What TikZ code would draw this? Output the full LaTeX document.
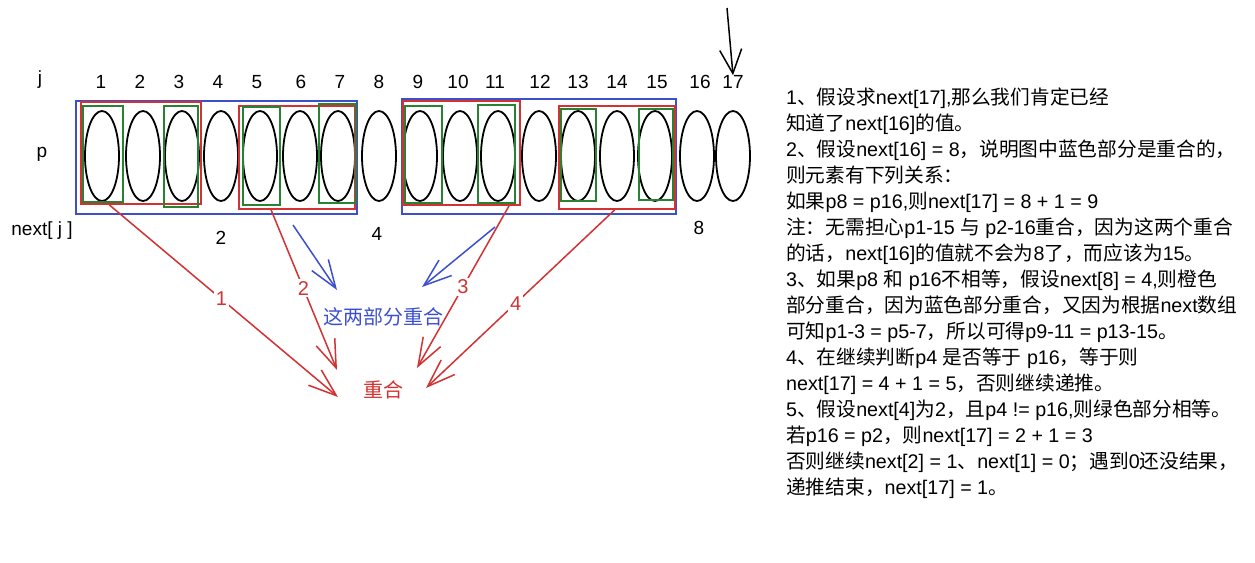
\documentclass[tikz,border=0pt]{standalone}
\usepackage{fontspec}
\setmainfont{Liberation Sans}
\newfontfamily\cjk{Noto Sans CJK SC}
\usetikzlibrary{shapes.geometric,arrows.meta,calc}
\definecolor{myblue}{RGB}{60,80,205}
\definecolor{myred}{RGB}{210,50,50}
\definecolor{mygreen}{RGB}{40,130,50}
\newcommand\zh[1]{{\cjk #1}}
\begin{document}
\begin{tikzpicture}[x=1pt,y=-1pt,
  oval/.style={ellipse, draw, line width=1.8pt, minimum width=34pt, minimum height=90pt, inner sep=0},
  lab/.style={inner sep=0, font=\fontsize{19}{22}\selectfont},
  zhlab/.style={inner sep=0, font=\cjk\fontsize{20}{22}\selectfont},
  bluebox/.style={draw=myblue, line width=1.8pt, inner sep=0},
  redbox/.style={draw=myred, line width=1.8pt, inner sep=0},
  greenbox/.style={draw=mygreen, line width=1.8pt, inner sep=0},
  redarrow/.style={draw=myred, line width=1.5pt, -{Straight Barb[length=28pt,width=20pt]}},
  bluearrow/.style={draw=myblue, line width=1.5pt, -{Straight Barb[length=28pt,width=20pt]}},
  numlab/.style={inner sep=2pt, fill=white, text=myred, font=\fontsize{20}{22}\selectfont},
  txt/.style={anchor=west, inner sep=0, font=\fontsize{19.7}{26}\selectfont, text height=15pt, text depth=4pt}
]
\useasboundingbox (0,0) rectangle (1255,562);
\fill[white] (0,0) rectangle (1255,562);

% ellipses
\foreach \i/\x in {1/102,2/143,3/182,4/221,5/260,6/300,7/338,8/379,9/420,10/460,11/498,12/539,13/578,14/617,15/655,16/697,17/733}
  \node[oval] (e\i) at (\x,156) {};

% column labels
\foreach \i/\x in {1/101,2/140,3/179,4/218,5/257,6/301,7/340,8/379,9/418,10/458,11/495,12/540,13/578,14/617,15/657,16/700,17/733}
  \node[lab] (j\i) at (\x,82) {\i};

\node[lab] (jl) at (40,80) {j};
\node[lab] (pl) at (42,154) {p};
\node[lab] (nl) at (42,231) {next[ j ]};
\node[lab] (n2) at (221,238) {2};
\node[lab] (n4) at (377,234) {4};
\node[lab] (n8) at (699,228) {8};

% boxes
\node[bluebox, minimum width=281pt, minimum height=113pt] (b1) at (216.5,157.5) {};
\node[bluebox, minimum width=274pt, minimum height=115pt] (b2) at (539,156.5) {};
\node[redbox, minimum width=120pt, minimum height=102pt] (r1) at (141,153) {};
\node[redbox, minimum width=116pt, minimum height=103pt] (r2) at (297,157.5) {};
\node[redbox, minimum width=117pt, minimum height=104pt] (r3) at (461.5,153) {};
\node[redbox, minimum width=116pt, minimum height=103pt] (r4) at (617,157.5) {};
\node[greenbox, minimum width=40pt, minimum height=96pt] (g1) at (103,154) {};
\node[greenbox, minimum width=34pt, minimum height=101pt] (g2) at (181,156.5) {};
\node[greenbox, minimum width=37pt, minimum height=98pt] (g3) at (261.5,156) {};
\node[greenbox, minimum width=37pt, minimum height=99pt] (g4) at (337.5,153.5) {};
\node[greenbox, minimum width=37pt, minimum height=97pt] (g5) at (423.5,154.5) {};
\node[greenbox, minimum width=37pt, minimum height=98pt] (g6) at (496.5,154) {};
\node[greenbox, minimum width=35pt, minimum height=92pt] (g7) at (578.5,155) {};
\node[greenbox, minimum width=34pt, minimum height=91pt] (g8) at (656,154.5) {};

% target texts
\node[zhlab, text=myblue] (both) at (383,317) {这两部分重合};
\node[zhlab, text=myred] (ov) at (383,390) {重合};

% arrow ends
\coordinate (t1) at (338,397);
\coordinate (t2) at (337,370);
\coordinate (t3) at (417,368);
\coordinate (t4) at (426,388);
\coordinate (bs1) at (293,225);
\coordinate (bt1) at (337,290);
\coordinate (bs2) at (495,227);
\coordinate (bt2) at (422,287);
\coordinate (top) at (727,8);

\draw[redarrow] ($(r1.south west)!0.24!(r1.south east)$) -- node[numlab, pos=0.49] (l1) {1} (t1);
\draw[redarrow] ($(r2.south west)!0.28!(r2.south east)$) -- node[numlab, pos=0.49] (l2) {2} (t2);
\draw[redarrow] ($(r3.south west)!0.90!(r3.south east)$) -- node[numlab, pos=0.5] (l3) {3} (t3);
\draw[redarrow] ($(r4.south west)!0.48!(r4.south east)$) -- node[numlab, pos=0.525] (l4) {4} (t4);
\draw[bluearrow] (bs1) -- (bt1);
\draw[bluearrow] (bs2) -- (bt2);
\draw[line width=1.5pt, -{Straight Barb[length=24pt,width=22pt]}] (top) -- (j17.north);

% explanation text
\node[txt] (x1) at (786,99) {1\zh{、假设求}next[17],\zh{那么我们肯定已经}};
\node[txt] (x2) at (786,125) {\zh{知道了}next[16]\zh{的值。}};
\node[txt] (x3) at (786,151) {2\zh{、假设}next[16] = 8\zh{，说明图中蓝色部分是重合的，}};
\node[txt] (x4) at (786,177) {\zh{则元素有下列关系：}};
\node[txt] (x5) at (786,203) {\zh{如果}p8 = p16,\zh{则}next[17] = 8 + 1 = 9};
\node[txt] (x6) at (786,229) {\zh{注：无需担心}p1-15 \zh{与} p2-16\zh{重合，因为这两个重合}};
\node[txt] (x7) at (786,255) {\zh{的话，}next[16]\zh{的值就不会为}8\zh{了，而应该为}15\zh{。}};
\node[txt] (x8) at (786,281) {3\zh{、如果}p8 \zh{和} p16\zh{不相等，假设}next[8] = 4,\zh{则橙色}};
\node[txt] (x9) at (786,307) {\zh{部分重合，因为蓝色部分重合，又因为根据}next\zh{数组}};
\node[txt] (x10) at (786,333) {\zh{可知}p1-3 = p5-7\zh{，所以可得}p9-11 = p13-15\zh{。}};
\node[txt] (x11) at (786,359) {4\zh{、在继续判断}p4 \zh{是否等于} p16\zh{，等于则}};
\node[txt] (x12) at (786,385) {next[17] = 4 + 1 = 5\zh{，否则继续递推。}};
\node[txt] (x13) at (786,411) {5\zh{、假设}next[4]\zh{为}2\zh{，且}p4 != p16,\zh{则绿色部分相等。}};
\node[txt] (x14) at (786,437) {\zh{若}p16 = p2\zh{，则}next[17] = 2 + 1 = 3};
\node[txt] (x15) at (786,463) {\zh{否则继续}next[2] = 1\zh{、}next[1] = 0\zh{；遇到}0\zh{还没结果，}};
\node[txt] (x16) at (786,489) {\zh{递推结束，}next[17] = 1\zh{。}};
\end{tikzpicture}
\end{document}
